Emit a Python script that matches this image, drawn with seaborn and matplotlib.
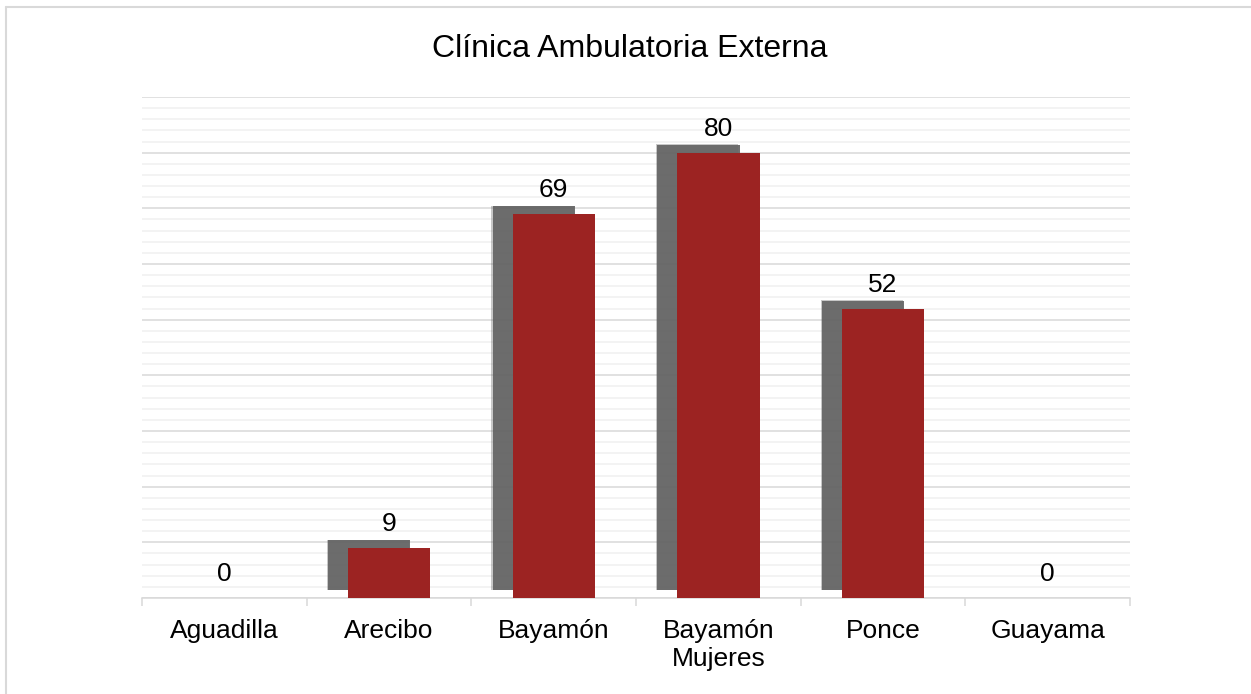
import matplotlib
matplotlib.use("Agg")
import matplotlib.pyplot as plt
import matplotlib.patheffects as pe
from matplotlib.lines import Line2D
from matplotlib.ticker import MultipleLocator, FixedLocator
import seaborn as sns

categories = ["Aguadilla", "Arecibo", "Bayamón", "Bayamón\nMujeres", "Ponce", "Guayama"]
values = [0, 9, 69, 80, 52, 0]
title = "Clínica Ambulatoria Externa"

bar_color = "#9c2322"
shadow_color = "#626262"
grid_major = "#d9d9d9"
grid_minor = "#f0f0f0"

sns.set_theme(style="white")
plt.rcParams["font.family"] = ["Liberation Sans", "DejaVu Sans"]
plt.rcParams["text.color"] = "black"

fig = plt.figure(figsize=(12.51, 6.94), dpi=100)
ax = fig.add_axes([142 / 1251, 1 - 598 / 694, (1130 - 142) / 1251, (598 - 97) / 694])

sns.barplot(x=categories, y=values, color=bar_color, width=0.5, saturation=1,
            ax=ax, zorder=3)

# drop shadow up and to the left, like the original
for bar in ax.patches:
    bar.set_edgecolor("none")
    bar.set_path_effects([
        pe.SimplePatchShadow(offset=(-15.2, 6.0), shadow_rgbFace=shadow_color, alpha=0.35),
        pe.SimplePatchShadow(offset=(-14.4, 5.6), shadow_rgbFace=shadow_color, alpha=0.9),
        pe.Normal(),
    ])

ax.set_ylim(0, 90)
ax.set_xlim(-0.5, len(categories) - 0.5)
ax.yaxis.set_major_locator(MultipleLocator(10))
ax.yaxis.set_minor_locator(MultipleLocator(2))
ax.set_axisbelow(True)
ax.grid(False)
ax.grid(axis="y", which="minor", color=grid_minor, linewidth=1.1)
ax.grid(axis="y", which="major", color=grid_major, linewidth=1.1)
ax.tick_params(axis="y", which="both", length=0, labelleft=False)

ax.xaxis.set_minor_locator(FixedLocator([i - 0.5 for i in range(len(categories) + 1)]))
ax.tick_params(axis="x", which="major", length=0, pad=15, labelsize=19, colors="black")
ax.tick_params(axis="x", which="minor", length=6, width=1.1, color=grid_major, direction="out")
ax.tick_params(axis="x", which="minor", bottom=True)
for t in ax.get_xticklabels():
    t.set_linespacing(1.2)

for s in ["left", "right", "top"]:
    ax.spines[s].set_visible(False)
ax.spines["bottom"].set_color(grid_major)
ax.spines["bottom"].set_linewidth(1.1)
ax.set_xlabel("")
ax.set_ylabel("")

for i, v in enumerate(values):
    ax.annotate(str(v), (i, v), xytext=(0, 12.2), textcoords="offset points",
                ha="center", va="baseline", fontsize=19, color="black")

fig.text(629.5 / 1251, 1 - 57 / 694, title, ha="center", va="baseline",
         fontsize=23, color="black")

# light frame of the chart area
fig.add_artist(Line2D([6 / 1251, 1], [1 - 7 / 694, 1 - 7 / 694], color=grid_major, lw=1.5))
fig.add_artist(Line2D([6 / 1251, 6 / 1251], [0, 1 - 7 / 694], color=grid_major, lw=1.5))

fig.savefig("out.png", dpi=100, facecolor="white")
